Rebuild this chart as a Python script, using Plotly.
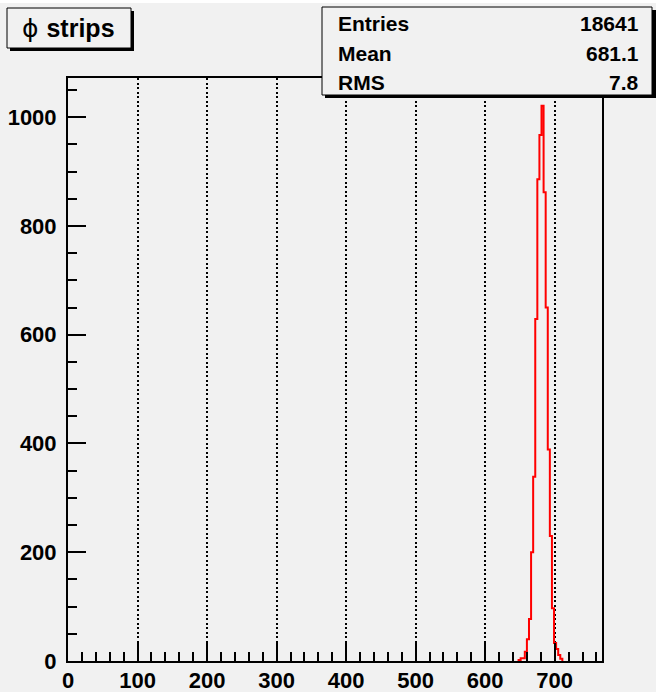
import plotly.graph_objects as go

# ---- data ----
bin_edges = [648, 651, 654, 657, 660, 663, 666, 669, 672, 675, 678, 681, 684,
             687, 690, 693, 696, 699, 702, 705, 708, 711]
bin_counts = [2, 5, 5, 17, 40, 77, 200, 339, 629, 886, 967, 1021, 862,
              650, 389, 230, 97, 33, 22, 11, 4]
x_ticks = [0, 100, 200, 300, 400, 500, 600, 700]
y_ticks = [0, 200, 400, 600, 800, 1000]
title_symbol = "ϕ"
title_word = "strips"
stat_names = ["Entries", "Mean", "RMS"]
stat_values = ["18641", "681.1", "7.8"]
x_range = [0, 768]
y_range = [0, 1072]

W, H = 656, 692
L, R, T, B = 68, 602, 78, 661
BG = "#f1f1f1"


def px(x):
    return (x - L) / (R - L)


def py(y):
    return (B - y) / (B - T)


# step outline
xs = [bin_edges[0]] + bin_edges
ys = [0] + bin_counts + [0]

fig = go.Figure()
fig.add_trace(go.Scatter(x=xs, y=ys, mode="lines", line=dict(color="#ff0000", width=2, shape="hv"),
                         hoverinfo="skip", showlegend=False))

font_b = dict(family="Liberation Sans", size=22, color="black", weight="bold")

fig.update_layout(
    width=W, height=H,
    margin=dict(l=L, r=W - R, t=T, b=H - B, pad=0, autoexpand=False),
    paper_bgcolor=BG, plot_bgcolor=BG,
    showlegend=False,
    xaxis=dict(range=x_range, tickvals=x_ticks, ticks="inside", ticklen=18, tickwidth=1.5,
               tickcolor="black", showline=True, mirror=True, linecolor="black", linewidth=2,
               showgrid=True, gridcolor="black", gridwidth=1.5, griddash="2px,2.5px",
               zeroline=False, tickfont=font_b, ticklabelstandoff=-1, automargin=False,
               minor=dict(dtick=20, tick0=0, ticks="inside", ticklen=9, tickwidth=1.5,
                          tickcolor="black", showgrid=False)),
    yaxis=dict(range=y_range, tickvals=y_ticks, ticks="inside", ticklen=18, tickwidth=1.5,
               tickcolor="black", showline=True, mirror=True, linecolor="black", linewidth=2,
               showgrid=False, zeroline=False, tickfont=font_b, ticklabelstandoff=5,
               automargin=False,
               minor=dict(dtick=50, tick0=0, ticks="inside", ticklen=9, tickwidth=1.5,
                          tickcolor="black", showgrid=False)),
)

shapes = []
# white strip at the very top
shapes.append(dict(type="rect", xref="paper", yref="paper", x0=px(0), x1=px(W), y0=py(0), y1=py(3),
                   fillcolor="white", line=dict(width=0), layer="above"))
# title box with shadow
shapes.append(dict(type="rect", xref="paper", yref="paper", x0=px(10), x1=px(134), y0=py(11), y1=py(51),
                   fillcolor="black", line=dict(width=0), layer="above"))
shapes.append(dict(type="rect", xref="paper", yref="paper", x0=px(7), x1=px(131), y0=py(8), y1=py(48),
                   fillcolor=BG, line=dict(color="black", width=1), layer="above"))
# stats box with shadow
shapes.append(dict(type="rect", xref="paper", yref="paper", x0=px(325), x1=px(656), y0=py(10), y1=py(98),
                   fillcolor="black", line=dict(width=0), layer="above"))
shapes.append(dict(type="rect", xref="paper", yref="paper", x0=px(322), x1=px(652), y0=py(7), y1=py(95),
                   fillcolor=BG, line=dict(color="black", width=1), layer="above"))
fig.update_layout(shapes=shapes)

ann = []
ann.append(dict(xref="paper", yref="paper", x=px(68), y=py(28),
                text=title_symbol + " <span style='font-family:Liberation Sans'><b>" + title_word + "</b></span>",
                showarrow=False, xanchor="center", yanchor="middle",
                font=dict(family="DejaVu Sans", size=25, color="black")))
row_y = [23, 53, 82]
for name, val, yy in zip(stat_names, stat_values, row_y):
    ann.append(dict(xref="paper", yref="paper", x=px(336), y=py(yy), text="<b>" + name + "</b>",
                    showarrow=False, xanchor="left", yanchor="middle",
                    font=dict(family="Liberation Sans", size=21, color="black")))
    ann.append(dict(xref="paper", yref="paper", x=px(641), y=py(yy), text="<b>" + val + "</b>",
                    showarrow=False, xanchor="right", yanchor="middle",
                    font=dict(family="Liberation Sans", size=21, color="black")))
fig.update_layout(annotations=ann)

fig.write_html("out.html")
